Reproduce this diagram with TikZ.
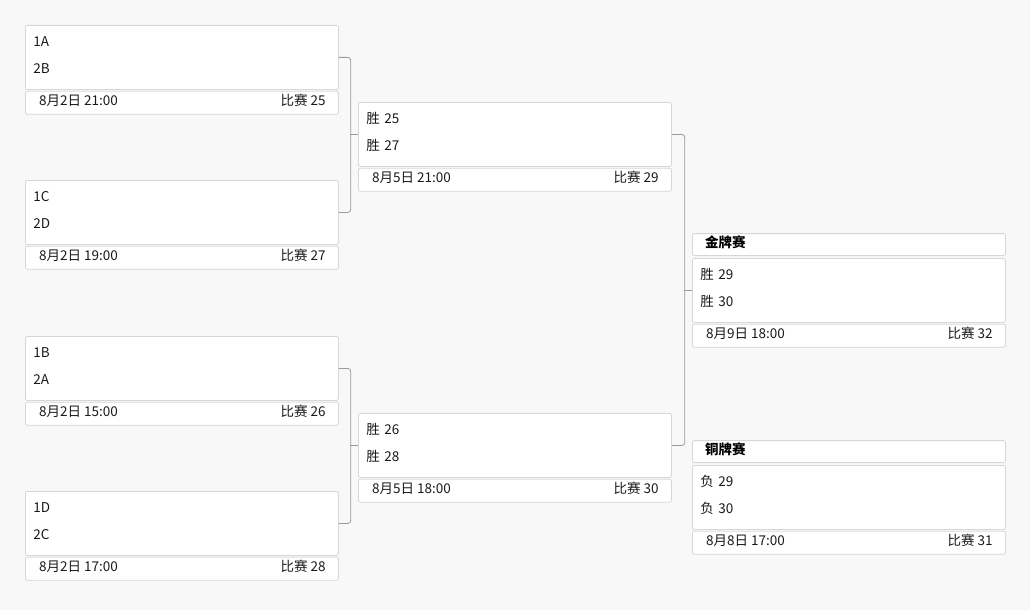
\documentclass[tikz,border=0pt]{standalone}
\usepackage{fontspec}
\setmainfont{Noto Sans CJK SC}
\usepackage{tikz}
\usetikzlibrary{positioning}
\definecolor{pagebg}{HTML}{F8F8F8}
\definecolor{boxline}{HTML}{D6D6D6}
\definecolor{linkline}{HTML}{9A9A9A}
\definecolor{txt}{HTML}{1A1A1A}
\tikzstyle{teams} = [draw=boxline, fill=white, rounded corners=2pt, line width=0.8pt, minimum width=313pt, minimum height=64pt, text width=297pt, align=left, inner sep=0pt, text height=12pt, text depth=34pt, text=txt, font=\fontsize{13.5}{27}\selectfont]
\tikzstyle{foot} = [draw=boxline, fill=white, rounded corners=2pt, line width=0.8pt, minimum width=313pt, minimum height=23pt, inner sep=0pt]
\tikzstyle{head} = [draw=boxline, fill=white, rounded corners=2pt, line width=0.8pt, minimum width=313pt, minimum height=22pt, inner sep=0pt]
\tikzstyle{info} = [inner sep=0pt, yshift=2pt, text=txt, font=\fontsize{13.5}{16}\selectfont]
\tikzstyle{title} = [inner sep=0pt, yshift=2pt, text=black, font=\fontsize{13.5}{16}\selectfont\bfseries]
\tikzstyle{link} = [draw=linkline, line width=0.8pt, rounded corners=3pt]

\begin{document}
\begin{tikzpicture}[x=1pt, y=-1pt]

	\fill[pagebg] (0,0) rectangle (1030,610);

	% first round
	\node [teams, anchor=north west] (m25) at (25,25) {1A\\2B};
	\node [foot, below=1pt of m25] (f25) {};
	\node [info, right=14pt of f25.west] (d25) {8月2日 21:00};
	\node [info, left=13pt of f25.east] (n25) {比赛 25};

	\node [teams, anchor=north west] (m27) at (25,180) {1C\\2D};
	\node [foot, below=1pt of m27] (f27) {};
	\node [info, right=14pt of f27.west] (d27) {8月2日 19:00};
	\node [info, left=13pt of f27.east] (n27) {比赛 27};

	\node [teams, anchor=north west] (m26) at (25,336) {1B\\2A};
	\node [foot, below=1pt of m26] (f26) {};
	\node [info, right=14pt of f26.west] (d26) {8月2日 15:00};
	\node [info, left=13pt of f26.east] (n26) {比赛 26};

	\node [teams, anchor=north west] (m28) at (25,491) {1D\\2C};
	\node [foot, below=1pt of m28] (f28) {};
	\node [info, right=14pt of f28.west] (d28) {8月2日 17:00};
	\node [info, left=13pt of f28.east] (n28) {比赛 28};

	% semi finals
	\node [teams, anchor=north west] (m29) at (358,102) {胜 25\\胜 27};
	\node [foot, below=1pt of m29] (f29) {};
	\node [info, right=14pt of f29.west] (d29) {8月5日 21:00};
	\node [info, left=13pt of f29.east] (n29) {比赛 29};

	\node [teams, anchor=north west] (m30) at (358,413) {胜 26\\胜 28};
	\node [foot, below=1pt of m30] (f30) {};
	\node [info, right=14pt of f30.west] (d30) {8月5日 18:00};
	\node [info, left=13pt of f30.east] (n30) {比赛 30};

	% finals
	\node [teams, anchor=north west] (m32) at (692,258) {胜 29\\胜 30};
	\node [head, above=2pt of m32] (h32) {};
	\node [title, right=13pt of h32.west] (t32) {金牌赛};
	\node [foot, below=1pt of m32] (f32) {};
	\node [info, right=14pt of f32.west] (d32) {8月9日 18:00};
	\node [info, left=13pt of f32.east] (n32) {比赛 32};

	\node [teams, anchor=north west] (m31) at (692,465) {负 29\\负 30};
	\node [head, above=2pt of m31] (h31) {};
	\node [title, right=13pt of h31.west] (t31) {铜牌赛};
	\node [foot, below=1pt of m31] (f31) {};
	\node [info, right=14pt of f31.west] (d31) {8月8日 17:00};
	\node [info, left=13pt of f31.east] (n31) {比赛 31};

	\draw [link] (m25.east) -- ++(12,0) |- (m27.east);
	\draw [link] (m29.west) -- ++(-8,0);
	\draw [link] (m26.east) -- ++(12,0) |- (m28.east);
	\draw [link] (m30.west) -- ++(-8,0);
	\draw [link] (m29.east) -- ++(13,0) |- (m30.east);
	\draw [link] (m32.west) -- ++(-8,0);
\end{tikzpicture}
\end{document}
